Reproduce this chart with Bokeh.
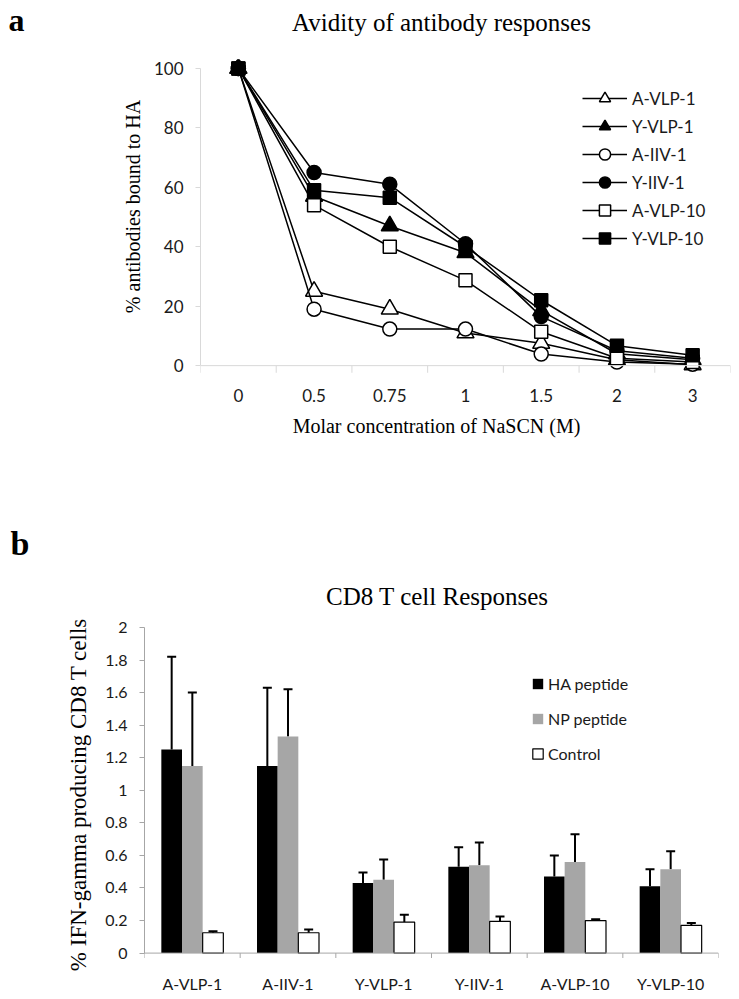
import math
from bokeh.plotting import figure
from bokeh.models import (Range1d, FactorRange, FixedTicker, Legend, LegendItem, Label, Span,
                          ColumnDataSource, Whisker, TeeHead, NumeralTickFormatter)
from bokeh.transform import dodge
from bokeh.embed import file_html
from bokeh.resources import INLINE

# ---------------- Panel a data ----------------
molar = ["0", "0.5", "0.75", "1", "1.5", "2", "3"]
a_vlp_1 = [100, 25, 19, 11, 7.5, 2, 0.3]
y_vlp_1 = [100, 57, 47, 38, 18.5, 4, 2]
a_iiv_1 = [100, 19, 12.3, 12.3, 3.9, 1.2, 0.5]
y_iiv_1 = [100, 65, 61, 41, 16.5, 5, 2.5]
a_vlp_10 = [100, 54, 40, 28.7, 11.4, 2.5, 1.2]
y_vlp_10 = [100, 59, 56.5, 40, 22, 6.7, 3.5]
a_ticks = [0, 20, 40, 60, 80, 100]

# ---------------- Panel b data ----------------
groups = ["A-VLP-1", "A-IIV-1", "Y-VLP-1", "Y-IIV-1", "A-VLP-10", "Y-VLP-10"]
ha = [1.25, 1.15, 0.43, 0.53, 0.47, 0.41]
ha_err = [0.57, 0.48, 0.065, 0.12, 0.13, 0.105]
np_ = [1.15, 1.33, 0.45, 0.54, 0.56, 0.515]
np_err = [0.45, 0.29, 0.125, 0.14, 0.17, 0.11]
ctrl = [0.125, 0.125, 0.19, 0.195, 0.20, 0.17]
ctrl_err = [0.01, 0.02, 0.045, 0.03, 0.008, 0.015]
b_ticks = [0, 0.2, 0.4, 0.6, 0.8, 1, 1.2, 1.4, 1.6, 1.8, 2]

SERIF = "Liberation Serif"
SANS = "Lato"
TXT = "#1a1a1a"

# ================= Panel a =================
pa = figure(width=739, height=450, x_range=FactorRange(factors=molar), y_range=Range1d(-5, 103),
            output_backend="svg", toolbar_location=None,
            min_border_left=200, min_border_right=9, min_border_top=59, min_border_bottom=70)
pa.outline_line_color = None
pa.xgrid.visible = False
pa.ygrid.visible = False

ya = pa.yaxis[0]
ya.ticker = FixedTicker(ticks=a_ticks)
ya.bounds = (0, 100)
ya.axis_line_color = "#d9d9d9"
ya.major_tick_line_color = "#d9d9d9"
ya.major_tick_out = 5
ya.major_tick_in = 0
ya.minor_tick_line_color = None
ya.major_label_standoff = 12
ya.major_label_text_font = SANS
ya.major_label_text_font_size = "17px"
ya.major_label_text_color = TXT

xa = pa.xaxis[0]
xa.axis_line_color = None
xa.major_tick_line_color = None
xa.major_tick_out = 0
xa.major_tick_in = 0
xa.minor_tick_line_color = None
xa.major_label_standoff = 8
xa.major_label_text_font = SANS
xa.major_label_text_font_size = "17px"
xa.major_label_text_color = TXT

pa.add_layout(Span(location=0, dimension="width", line_color="#d9d9d9", line_width=1))
bounds_a = list(range(len(molar) + 1))
pa.segment(x0=bounds_a, y0=[0] * len(bounds_a), x1=bounds_a, y1=[-2.4] * len(bounds_a),
           line_color="#d9d9d9", line_width=1)

series_a = [
    ("A-VLP-1", a_vlp_1, "triangle", "white", 17),
    ("Y-VLP-1", y_vlp_1, "triangle", "black", 17),
    ("A-IIV-1", a_iiv_1, "circle", "white", 14),
    ("Y-IIV-1", y_iiv_1, "circle", "black", 14),
    ("A-VLP-10", a_vlp_10, "square", "white", 13),
    ("Y-VLP-10", y_vlp_10, "square", "black", 13),
]
items_a = []
for name, vals, marker, fill, size in series_a:
    src = ColumnDataSource(dict(x=molar, y=vals))
    lr = pa.line("x", "y", source=src, line_color="black", line_width=1.5)
    sr = pa.scatter("x", "y", source=src, marker=marker, size=size, fill_color=fill,
                    line_color="black", line_width=1.5)
    items_a.append(LegendItem(label=name, renderers=[lr, sr]))

leg_a = Legend(items=items_a, location=(382, 128), glyph_width=45, glyph_height=28,
               label_height=28, spacing=0, padding=0, margin=0, border_line_color=None,
               background_fill_alpha=0, label_text_font=SANS, label_text_font_size="17px",
               label_text_color=TXT, label_standoff=5)
pa.add_layout(leg_a)

pa.add_layout(Label(x=-2.536, y=116.3, text="a", text_font=SERIF, text_font_style="bold",
                    text_font_size="32px", text_baseline="middle", text_align="left",
                    text_color="black"), "left")
pa.add_layout(Label(x=3.183, y=115.6, text="Avidity of antibody responses", text_font=SERIF,
                    text_font_size="25px", text_baseline="middle", text_align="center",
                    text_color="black"), "above")
pa.add_layout(Label(x=3.117, y=-20.2, text="Molar concentration of NaSCN (M)", text_font=SERIF,
                    text_font_size="20px", text_baseline="middle", text_align="center",
                    text_color="black"), "below")
pa.add_layout(Label(x=-0.885, y=53.54, text="% antibodies bound to HA", text_font=SERIF,
                    text_font_size="20px", text_baseline="middle", text_align="center",
                    angle=math.pi / 2, text_color="black"), "left")

# ================= Panel b =================
pb = figure(width=739, height=549, x_range=FactorRange(factors=groups), y_range=Range1d(-0.07, 2.0),
            output_backend="svg", toolbar_location=None,
            min_border_left=144, min_border_right=21, min_border_top=177, min_border_bottom=35)
pb.outline_line_color = None
pb.xgrid.visible = False
pb.ygrid.visible = False

yb = pb.yaxis[0]
yb.ticker = FixedTicker(ticks=b_ticks)
yb.formatter = NumeralTickFormatter(format="0.[0]")
yb.bounds = (0, 2)
yb.axis_line_color = "#a6a6a6"
yb.major_tick_line_color = "#a6a6a6"
yb.major_tick_out = 5
yb.major_tick_in = 0
yb.minor_tick_line_color = None
yb.major_label_standoff = 12
yb.major_label_text_font = SANS
yb.major_label_text_font_size = "16px"
yb.major_label_text_color = TXT

xb = pb.xaxis[0]
xb.axis_line_color = None
xb.major_tick_line_color = None
xb.major_tick_out = 0
xb.major_tick_in = 0
xb.minor_tick_line_color = None
xb.major_label_standoff = 9
xb.major_label_text_font = SANS
xb.major_label_text_font_size = "16px"
xb.major_label_text_color = TXT

pb.add_layout(Span(location=0, dimension="width", line_color="#a6a6a6", line_width=1))
bounds_b = list(range(len(groups) + 1))
pb.segment(x0=bounds_b, y0=[0] * len(bounds_b), x1=bounds_b, y1=[-0.03] * len(bounds_b),
           line_color="#a6a6a6", line_width=1)

src_b = ColumnDataSource(dict(
    group=groups,
    ha=ha, ha_top=[v + e for v, e in zip(ha, ha_err)],
    np=np_, np_top=[v + e for v, e in zip(np_, np_err)],
    ctrl=ctrl, ctrl_top=[v + e for v, e in zip(ctrl, ctrl_err)],
))
W = 0.216
r_ha = pb.vbar(x=dodge("group", -W, range=pb.x_range), top="ha", bottom=0, width=W, source=src_b,
               fill_color="black", line_color=None)
r_np = pb.vbar(x=dodge("group", 0, range=pb.x_range), top="np", bottom=0, width=W, source=src_b,
               fill_color="#a6a6a6", line_color=None)
r_ct = pb.vbar(x=dodge("group", W, range=pb.x_range), top="ctrl", bottom=0, width=W, source=src_b,
               fill_color="white", line_color="black", line_width=1.2)

for off, lo, hi in [(-W, "ha", "ha_top"), (0, "np", "np_top"), (W, "ctrl", "ctrl_top")]:
    pb.add_layout(Whisker(source=src_b, base=dodge("group", off, range=pb.x_range), lower=lo, upper=hi,
                          line_color="black", line_width=2,
                          upper_head=TeeHead(size=9, line_color="black", line_width=2),
                          lower_head=None))

leg_b = Legend(items=[LegendItem(label="HA peptide", renderers=[r_ha]),
                      LegendItem(label="NP peptide", renderers=[r_np]),
                      LegendItem(label="Control", renderers=[r_ct])],
               location=(387, 201), glyph_width=13, glyph_height=13, label_height=20, spacing=15,
               padding=0, margin=0, border_line_color=None, background_fill_alpha=0,
               label_text_font=SANS, label_text_font_size="16px", label_text_color=TXT,
               label_standoff=4)
pb.add_layout(leg_b)

pb.add_layout(Label(x=-1.401, y=2.519, text="b", text_font=SERIF, text_font_style="bold",
                    text_font_size="34px", text_baseline="middle", text_align="left",
                    text_color="black"), "left")
pb.add_layout(Label(x=3.063, y=2.193, text="CD8 T cell Responses", text_font=SERIF,
                    text_font_size="25px", text_baseline="middle", text_align="center",
                    text_color="black"), "above")
pb.add_layout(Label(x=-0.69, y=0.974, text="% IFN-gamma producing CD8 T cells", text_font=SERIF,
                    text_font_size="23px", text_baseline="middle", text_align="center",
                    angle=math.pi / 2, text_color="black"), "left")

open("out.html", "w").write(file_html([pa, pb], INLINE))
